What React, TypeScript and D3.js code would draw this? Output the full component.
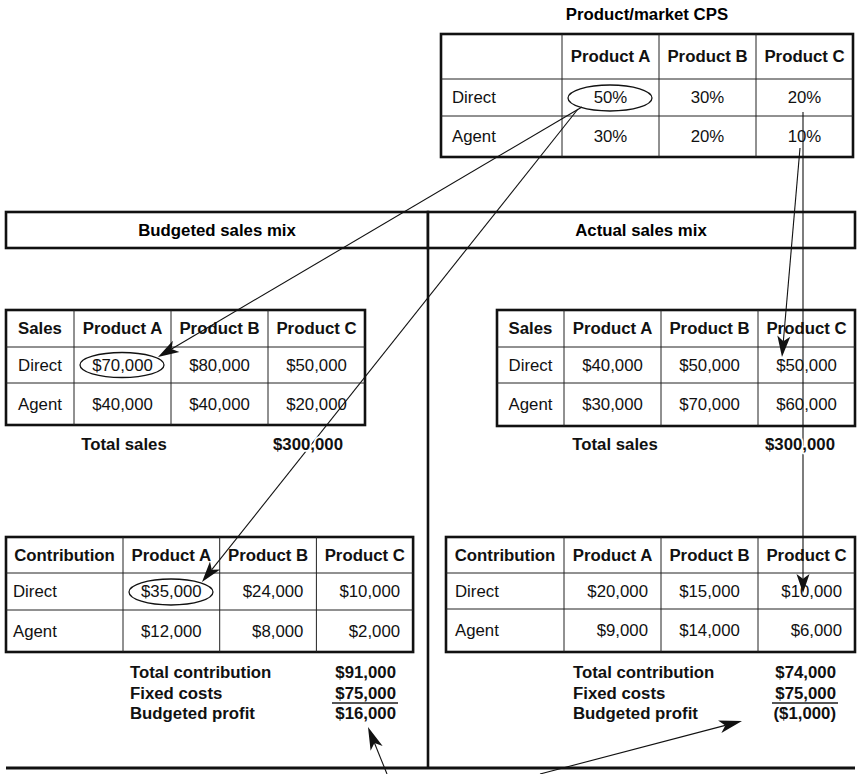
import React from 'react';
import * as d3 from 'd3';

// table data
const products = ['Product A', 'Product B', 'Product C'];
const channels = ['Direct', 'Agent'];

const cpsDirect = [50, 30, 20];
const cpsAgent = [30, 20, 10];

const budgetSalesDirect = [70000, 80000, 50000];
const budgetSalesAgent = [40000, 40000, 20000];
const actualSalesDirect = [40000, 50000, 50000];
const actualSalesAgent = [30000, 70000, 60000];

const budgetContribDirect = [35000, 24000, 10000];
const budgetContribAgent = [12000, 8000, 2000];
const actualContribDirect = [20000, 15000, 10000];
const actualContribAgent = [9000, 14000, 6000];

const fixedCosts = 75000;
const summaryLabels = ['Total contribution', 'Fixed costs', 'Budgeted profit'];

const FONT = '"Liberation Sans", Arial, Helvetica, sans-serif';
const FS = 16.8;

const money = (v: number) => (v < 0 ? `(${d3.format('$,')(-v)})` : d3.format('$,')(v));
const pct = (v: number) => `${v}%`;

type Align = 'start' | 'middle' | 'end';

interface TableProps {
  x0: number;
  y0: number;
  firstW: number;
  colW: number;
  rowH: number[];
  corner: string;
  rows: { label: string; values: string[] }[];
  labelAlign: Align;
  labelPad: number;
  valueAlign: Align[];
  pad: number;
}

// white halo so connector lines break behind the text, as in the original
const halo = {
  paintOrder: 'stroke' as const,
  stroke: '#fff',
  strokeWidth: 3.5,
  strokeLinejoin: 'round' as const,
};

function Table({ x0, y0, firstW, colW, rowH, corner, rows, labelAlign, labelPad, valueAlign, pad }: TableProps) {
  const x = d3.scaleBand<string>().domain(products).range([x0 + firstW, x0 + firstW + products.length * colW]);
  const bounds = [y0, ...d3.cumsum(rowH).map(h => y0 + h)];
  const width = firstW + products.length * colW;
  const height = d3.sum(rowH);
  const cy = (i: number) => (bounds[i] + bounds[i + 1]) / 2;
  const tx = (a: Align, l: number, w: number, p: number) => (a === 'start' ? l + p : a === 'end' ? l + w - p : l + w / 2);

  return (
    <g>
      <rect x={x0} y={y0} width={width} height={height} fill="#fff" stroke="#111" strokeWidth={2.6} />
      {products.map(p => (
        <line key={p} x1={x(p)} x2={x(p)} y1={y0} y2={y0 + height} stroke="#222" strokeWidth={1} />
      ))}
      {bounds.slice(1, -1).map((b, i) => (
        <line key={i} x1={x0} x2={x0 + width} y1={b} y2={b} stroke="#222" strokeWidth={1} />
      ))}
      <g className="cells" style={{ fontFamily: FONT, fontSize: FS }} fill="#111">
        <text x={x0 + firstW / 2} y={cy(0)} dy="0.35em" textAnchor="middle" fontWeight="bold" {...halo}>
          {corner}
        </text>
        {products.map(p => (
          <text key={p} x={(x(p) as number) + colW / 2} y={cy(0)} dy="0.35em" textAnchor="middle" fontWeight="bold" {...halo}>
            {p}
          </text>
        ))}
        {rows.map((r, i) => (
          <g key={r.label}>
            <text x={tx(labelAlign, x0, firstW, labelPad)} y={cy(i + 1)} dy="0.35em" textAnchor={labelAlign} {...halo}>
              {r.label}
            </text>
            {r.values.map((v, j) => (
              <text
                key={j}
                x={tx(valueAlign[j], x(products[j]) as number, colW, pad)}
                y={cy(i + 1)}
                dy="0.35em"
                textAnchor={valueAlign[j]}
                {...halo}
              >
                {v}
              </text>
            ))}
          </g>
        ))}
      </g>
    </g>
  );
}

function Summary({ labelX, valueRight, ys, values }: { labelX: number; valueRight: number; ys: number[]; values: number[] }) {
  return (
    <g style={{ fontFamily: FONT, fontSize: FS, fontWeight: 'bold' }} fill="#111">
      {summaryLabels.map((l, i) => (
        <g key={l}>
          <text x={labelX} y={ys[i]} dy="0.35em">{l}</text>
          <text x={valueRight} y={ys[i]} dy="0.35em" textAnchor="end">{money(values[i])}</text>
        </g>
      ))}
      <line x1={valueRight - 64} x2={valueRight + 2} y1={(ys[1] + ys[2]) / 2} y2={(ys[1] + ys[2]) / 2} stroke="#555" strokeWidth={1.8} />
    </g>
  );
}

// filled, notched arrowhead pointing from `from` to `tip`
function head(from: [number, number], tip: [number, number], len = 21, half = 6.5) {
  const dx = tip[0] - from[0];
  const dy = tip[1] - from[1];
  const d = Math.hypot(dx, dy);
  const ux = dx / d;
  const uy = dy / d;
  const bx = tip[0] - ux * len;
  const by = tip[1] - uy * len;
  const nx = tip[0] - ux * len * 0.75;
  const ny = tip[1] - uy * len * 0.75;
  const pts: [number, number][] = [
    tip,
    [bx - uy * half, by + ux * half],
    [nx, ny],
    [bx + uy * half, by - ux * half],
  ];
  return { path: d3.line()(pts) + 'Z', base: [nx, ny] as [number, number] };
}

const arrows: { from: [number, number]; tip: [number, number]; len?: number }[] = [
  { from: [582, 107], tip: [158, 357] },
  { from: [578, 109], tip: [202, 582] },
  { from: [800, 148], tip: [782, 357] },
  { from: [803, 112], tip: [803, 593], len: 19 },
  { from: [387, 774], tip: [368, 727], len: 23 },
  { from: [540, 774], tip: [742, 721], len: 23 },
];

export default function App() {
  const budgetSalesTotal = d3.sum([...budgetSalesDirect, ...budgetSalesAgent]);
  const actualSalesTotal = d3.sum([...actualSalesDirect, ...actualSalesAgent]);
  const budgetContrib = d3.sum([...budgetContribDirect, ...budgetContribAgent]);
  const actualContrib = d3.sum([...actualContribDirect, ...actualContribAgent]);

  const rowsOf = (a: number[], b: number[], f: (v: number) => string) => [
    { label: channels[0], values: a.map(f) },
    { label: channels[1], values: b.map(f) },
  ];

  const heads = arrows.map(a => ({ ...a, ...head(a.from, a.tip, a.len) }));

  return (
    <div style={{ position: 'absolute', left: 0, top: 0 }}>
      <svg width={859} height={774} style={{ display: 'block', background: '#fff' }}>
        <text x={647} y={14} dy="0.35em" textAnchor="middle" style={{ fontFamily: FONT, fontSize: FS, fontWeight: 'bold' }}>
          Product/market CPS
        </text>

        {/* section frame */}
        <rect x={6} y={212} width={422} height={36} fill="#fff" stroke="#111" strokeWidth={2.6} />
        <rect x={428} y={212} width={427} height={36} fill="#fff" stroke="#111" strokeWidth={2.6} />
        <text x={217} y={230} dy="0.35em" textAnchor="middle" style={{ fontFamily: FONT, fontSize: FS, fontWeight: 'bold' }}>
          Budgeted sales mix
        </text>
        <text x={641} y={230} dy="0.35em" textAnchor="middle" style={{ fontFamily: FONT, fontSize: FS, fontWeight: 'bold' }}>
          Actual sales mix
        </text>
        <line x1={428} x2={428} y1={248} y2={768} stroke="#111" strokeWidth={2.6} />
        <line x1={6} x2={855} y1={768} y2={768} stroke="#111" strokeWidth={2.8} />

        <Table x0={441} y0={34} firstW={121} colW={97} rowH={[45, 37, 41]} corner=""
          rows={rowsOf(cpsDirect, cpsAgent, pct)} labelAlign="start" labelPad={11}
          valueAlign={['middle', 'middle', 'middle']} pad={12} />
        <Table x0={6} y0={310} firstW={68} colW={97} rowH={[37, 36, 42]} corner="Sales"
          rows={rowsOf(budgetSalesDirect, budgetSalesAgent, money)} labelAlign="middle" labelPad={0}
          valueAlign={['middle', 'middle', 'middle']} pad={12} />
        <Table x0={497} y0={310} firstW={67} colW={97} rowH={[37, 36, 43]} corner="Sales"
          rows={rowsOf(actualSalesDirect, actualSalesAgent, money)} labelAlign="middle" labelPad={0}
          valueAlign={['middle', 'middle', 'middle']} pad={12} />
        <Table x0={6} y0={537} firstW={117} colW={96.7} rowH={[36, 37, 42]} corner="Contribution"
          rows={rowsOf(budgetContribDirect, budgetContribAgent, money)} labelAlign="start" labelPad={7}
          valueAlign={['middle', 'end', 'end']} pad={13} />
        <Table x0={446} y0={537} firstW={118} colW={97} rowH={[36, 36, 43]} corner="Contribution"
          rows={rowsOf(actualContribDirect, actualContribAgent, money)} labelAlign="start" labelPad={9}
          valueAlign={['end', 'middle', 'end']} pad={13} />

        {/* connector lines (drawn under the text halos) */}
        {heads.map((h, i) => (
          <line key={i} x1={h.from[0]} y1={h.from[1]} x2={h.base[0]} y2={h.base[1]} stroke="#111" strokeWidth={1.1} />
        ))}

        <g style={{ fontFamily: FONT, fontSize: FS, fontWeight: 'bold' }} fill="#111">
          <text x={124} y={444} dy="0.35em" textAnchor="middle" {...halo}>Total sales</text>
          <text x={343} y={444} dy="0.35em" textAnchor="end" {...halo}>{money(budgetSalesTotal)}</text>
          <text x={615} y={444} dy="0.35em" textAnchor="middle" {...halo}>Total sales</text>
          <text x={835} y={444} dy="0.35em" textAnchor="end" {...halo}>{money(actualSalesTotal)}</text>
        </g>

        <Summary labelX={130} valueRight={396} ys={[672, 693, 713]}
          values={[budgetContrib, fixedCosts, budgetContrib - fixedCosts]} />
        <Summary labelX={573} valueRight={836} ys={[672, 693, 713]}
          values={[actualContrib, fixedCosts, actualContrib - fixedCosts]} />

        {/* circled cells */}
        <g fill="none" stroke="#111" strokeWidth={1.3}>
          <ellipse cx={610} cy={98} rx={42} ry={13} />
          <ellipse cx={122} cy={365} rx={42} ry={12.5} />
          <ellipse cx={171} cy={592} rx={42} ry={13} />
        </g>

        {heads.map((h, i) => (
          <path key={i} d={h.path} fill="#111" />
        ))}
      </svg>
    </div>
  );
}
